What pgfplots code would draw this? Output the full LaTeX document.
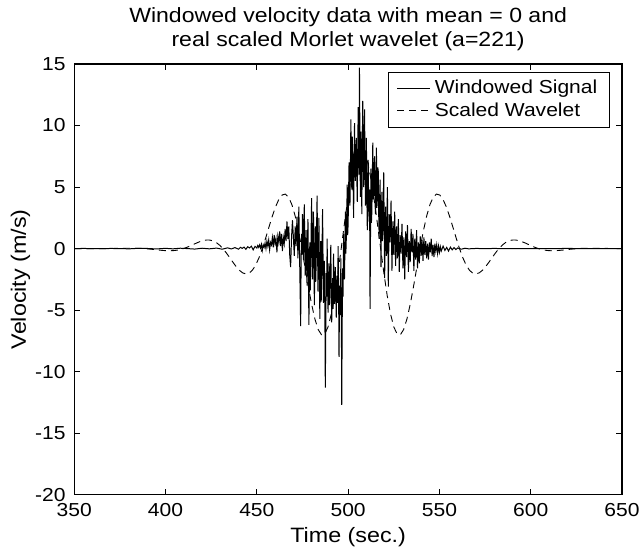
\documentclass[border=0pt]{standalone}
\usepackage{fontspec}
\setmainfont{Liberation Sans}[FakeStretch=1.12]
\usepackage{pgfplots}
\pgfplotsset{compat=1.18}
\begin{document}
\fontsize{9.4}{11}\selectfont
\begin{tikzpicture}
\begin{axis}[
  scale only axis,
  width=274pt, height=215.5pt,
  xmin=350, xmax=650, ymin=-20, ymax=15,
  xtick={350,400,450,500,550,600,650},
  ytick={-20,-15,-10,-5,0,5,10,15},
  xticklabels={350,400,450,500,550,600,650},
  yticklabels={-20,-15,-10,-5,0,5,10,15},
  tick align=inside,
  major tick length=3pt,
  axis line style={line width=0.6pt},
  every tick/.style={line width=0.5pt, black},
  tick label style={font=\fontsize{9.4}{11}\selectfont},
  xticklabel style={yshift=-1pt},
  yticklabel style={xshift=-1pt},
  label style={font=\fontsize{10.4}{12}\selectfont},
  xlabel={Time (sec.)},
  ylabel={Velocity (m/s)},
  xlabel style={yshift=1pt},
  ylabel style={yshift=-4pt},
  title={Windowed velocity data with mean = 0 and\\real scaled Morlet wavelet (a=221)},
  title style={align=center, font=\fontsize{10.3}{11.6}\selectfont, yshift=-2.5pt},
  legend style={at={(0.978,0.982)}, anchor=north east, draw=black, line width=0.6pt,
    font=\fontsize{9.4}{11}\selectfont, cells={anchor=west}, inner xsep=4pt, inner ysep=2pt, row sep=-1pt},
  legend image code/.code={\draw[#1, line width=0.5pt] (0cm,0cm) -- (0.58cm,0cm);},
]
\addplot[black, line width=0.5pt] table {
350 0
355 0.01
360 0
365 -0.01
370 0.01
375 0
380 -0.02
385 0.02
390 0.01
395 -0.03
400 0.02
404 -0.02
408 0.03
412 0
416 -0.04
420 0.03
424 -0.02
428 0.04
431 -0.05
434 0.06
436 -0.03
438 0.08
440 -0.05
441 0.1
442 0.02
443 0.12
444 -0.06
445 0.15
446 0.05
447 0.2
448 -0.1
449 0.18
450 0.05
450.5 0.25
451 0.1
451.5 0.3
452 0.05
452.5 0.35
453 -0.15
453.5 0.3
454 0.1
454.5 0.45
455 0.0
455.5 0.6
456 0.2
456.5 0.7
457 -0.1
457.5 0.5
458 0.3
458.5 0.9
459 0.1
459.5 1.1
460 0.4
460.5 0.8
461 -0.3
461.5 1.0
462 0.5
462.5 1.4
463 0.2
463.5 1.2
464 -0.2
464.5 0.9
465 0.4
465.5 1.6
466 0.6
466.5 2.2
467 0.8
467.5 1.8
468 -0.5
468.5 -1.5
469 0.9
469.5 2.3
470 1.0
470.5 -0.6
471 1.8
471.5 0.2
472 2.6
472.5 -0.8
473 3.4
473.5 -1.5
474 -6.3
474.25 -1.0
474.5 1.2
474.75 -0.5
475 2.8
475.25 0.4
475.5 -0.9
475.75 1.9
476 3.6
476.25 0.2
476.5 -2.2
476.75 -0.4
477 1.5
477.25 -1.2
477.5 -3.0
477.75 0.6
478 2.4
478.25 -1.5
478.5 -6.2
478.75 -2.9
479 0.5
479.25 -3.4
479.5 -1.8
479.75 1.6
480 4.1
480.25 0.3
480.5 -2.5
480.75 0.9
481 3.0
481.25 -0.8
481.5 -4.6
481.75 -1.5
482 1.8
482.25 -2.7
482.5 -1.2
482.75 2.0
483 4.3
483.25 0.1
483.5 -3.5
483.75 -0.6
484 2.5
484.25 -1.4
484.5 -5.7
484.75 -2.1
485 0.6
485.25 -4.3
485.5 -2.8
485.75 0.4
486 3.2
486.25 -0.7
486.5 -4.4
486.75 -2.1
487 -1.0
487.25 -4.8
487.5 -11.3
487.75 -6.5
488 -2.0
488.25 -3.9
488.5 0.8
488.75 -2.6
489 -5.2
489.25 -2.9
489.5 -1.2
489.75 -4.6
490 -3.8
490.25 -1.7
490.5 0.3
490.75 -3.1
491 -6.0
491.25 -4.0
491.5 -2.4
491.75 -4.9
492 -0.4
492.25 -2.5
492.5 -4.5
492.75 -3.0
493 -1.5
493.25 -3.8
493.5 -5.6
493.75 -3.1
494 -2.2
494.25 -4.4
494.5 0.2
494.75 -2.7
495 -8.8
495.25 -5.0
495.5 -3.0
495.75 -5.4
496 -0.8
496.25 -4.1
496.5 -12.7
496.75 -6.0
497 -1.6
497.25 -3.9
497.5 1.2
497.75 -0.6
498 -2.5
498.25 0.2
498.5 3.0
498.75 -0.4
499 0.8
499.25 2.9
499.5 5.2
499.75 1.1
500 2.0
500.25 4.6
500.5 7.0
500.75 3.9
501 3.5
501.25 6.6
501.5 10.5
501.75 6.9
502 4.8
502.25 9.1
502.5 8.0
502.75 5.2
503 2.5
503.25 6.4
503.5 10.2
503.75 6.7
504 5.5
504.25 8.2
504.5 9.0
504.75 5.9
505 3.8
505.25 7.9
505.5 11.5
505.75 8.6
506 6.0
506.2 14.7
506.45 9.0
506.7 4.2
506.85 7.2
507 9.5
507.25 6.3
507.5 2.8
507.75 8.2
508 12.0
508.25 8.6
508.5 5.0
508.75 7.9
509 11.3
509.25 6.8
509.5 3.5
509.75 5.8
510 9.0
510.25 4.2
510.5 1.5
510.75 5.1
511 7.2
511.25 3.6
511.5 2.2
511.75 4.8
512 -4.9
512.25 1.0
512.5 6.5
512.75 2.1
513 3.0
513.25 5.8
513.5 8.6
513.75 4.0
514 4.5
514.25 6.9
514.5 7.5
514.75 3.7
515 2.8
515.25 5.4
515.5 8.2
515.75 3.3
516 4.0
516.25 6.6
516.5 6.3
516.75 2.7
517 0.8
517.25 3.4
517.5 5.6
517.75 2.1
518 -1.5
518.25 2.7
518.5 4.6
518.75 0.6
519 1.2
519.25 3.8
519.5 6.2
519.75 1.9
520 -2.4
520.5 3.4
521 -0.6
521.5 5.0
522 -3.1
522.5 2.8
523 0.5
523.5 3.9
524 -1.8
524.5 2.2
525 -0.5
525.5 3.0
526 -1.4
526.5 1.8
527 -0.8
527.5 2.4
528 -1.9
528.5 1.1
529 -0.4
529.5 2.0
530 -1.6
530.5 0.9
531 -2.5
531.5 1.4
532 -0.7
532.5 1.9
533 -1.9
533.5 0.6
534 -1.1
534.5 1.6
535 -0.3
535.5 1.2
536 -1.8
536.5 0.8
537 -0.9
537.5 1.5
538 -1.6
538.5 0.5
539 -1.2
539.5 1.0
540 -0.6
540.5 0.7
541 -1.0
541.5 0.9
542 -0.5
542.5 0.6
543 -0.8
543.5 0.4
544 -0.9
544.5 0.5
545 -0.3
545.5 0.8
546 -0.6
546.5 0.3
547 -0.7
547.5 0.4
548 -0.2
548.5 0.3
549 -0.4
549.5 0.2
550 -0.3
550.5 0.15
551 -0.2
552 0.2
553 -0.15
554 0.1
555 -0.2
556 0.12
557 -0.1
558 0.08
559 -0.08
560 0.05
562 -0.05
564 0.03
566 -0.02
570 0.01
575 0
580 0.01
590 -0.01
600 0
610 0
620 0.01
630 0
640 0
650 0
};
\addlegendentry{Windowed Signal}
\addplot[black, line width=0.45pt, dash pattern=on 3.5pt off 2.5pt] table {
350.4 0
355.8 0
363.0 0
366.6 0
370.2 0.007
373.8 0.017
377.4 0.027
381.0 0.032
382.8 0.031
384.6 0.026
386.4 0.015
388.2 0
390.0 -0.020
391.8 -0.046
393.6 -0.074
395.4 -0.104
397.2 -0.132
399.0 -0.156
400.8 -0.172
402.6 -0.176
404.4 -0.163
406.2 -0.131
408.0 -0.076
409.8 0
411.6 0.097
413.4 0.210
415.2 0.332
417.0 0.454
418.8 0.564
420.6 0.650
422.4 0.697
424.2 0.693
426.0 0.625
427.8 0.488
429.6 0.278
431.4 0
433.2 -0.334
435.0 -0.706
436.8 -1.088
438.6 -1.451
440.4 -1.757
442.2 -1.971
444.0 -2.058
445.8 -1.991
447.6 -1.750
449.4 -1.329
451.2 -0.737
453.0 0
454.8 0.841
456.6 1.731
458.4 2.601
460.2 3.376
462.0 3.982
463.8 4.352
465.6 4.426
467.4 4.170
469.2 3.569
471.0 2.641
472.8 1.427
474.6 0
476.4 -1.544
478.2 -3.094
480.0 -4.527
481.8 -5.724
483.6 -6.577
485.4 -6.999
487.2 -6.933
489.0 -6.362
490.8 -5.304
492.6 -3.822
494.4 -2.011
496.2 0
498.0 2.065
499.8 4.029
501.6 5.741
503.4 7.070
505.2 7.912
507.0 8.200
508.8 7.912
510.6 7.070
512.4 5.741
514.2 4.029
516.0 2.065
517.8 0
519.6 -2.011
521.4 -3.822
523.2 -5.304
525.0 -6.362
526.8 -6.933
528.6 -6.999
530.4 -6.577
532.2 -5.724
534.0 -4.527
535.8 -3.094
537.6 -1.544
539.4 0
541.2 1.427
543.0 2.641
544.8 3.569
546.6 4.170
548.4 4.426
550.2 4.352
552.0 3.982
553.8 3.376
555.6 2.601
557.4 1.731
559.2 0.841
561.0 0
562.8 -0.737
564.6 -1.329
566.4 -1.750
568.2 -1.991
570.0 -2.058
571.8 -1.971
573.6 -1.757
575.4 -1.451
577.2 -1.088
579.0 -0.706
580.8 -0.334
582.6 0
584.4 0.278
586.2 0.488
588.0 0.625
589.8 0.693
591.6 0.697
593.4 0.650
595.2 0.564
597.0 0.454
598.8 0.332
600.6 0.210
602.4 0.097
604.2 0
606.0 -0.076
607.8 -0.131
609.6 -0.163
611.4 -0.176
613.2 -0.172
615.0 -0.156
616.8 -0.132
618.6 -0.104
620.4 -0.074
622.2 -0.046
624.0 -0.020
625.8 0
627.6 0.015
629.4 0.026
631.2 0.031
633.0 0.032
636.6 0.027
640.2 0.017
643.8 0.007
647.4 0
649.2 0
};
\addlegendentry{Scaled Wavelet}
\end{axis}
\pgfresetboundingbox
\useasboundingbox ([xshift=-37.15pt,yshift=-29.5pt]current axis.south west) rectangle ([xshift=10pt,yshift=32pt]current axis.north east);
\end{tikzpicture}
\end{document}
